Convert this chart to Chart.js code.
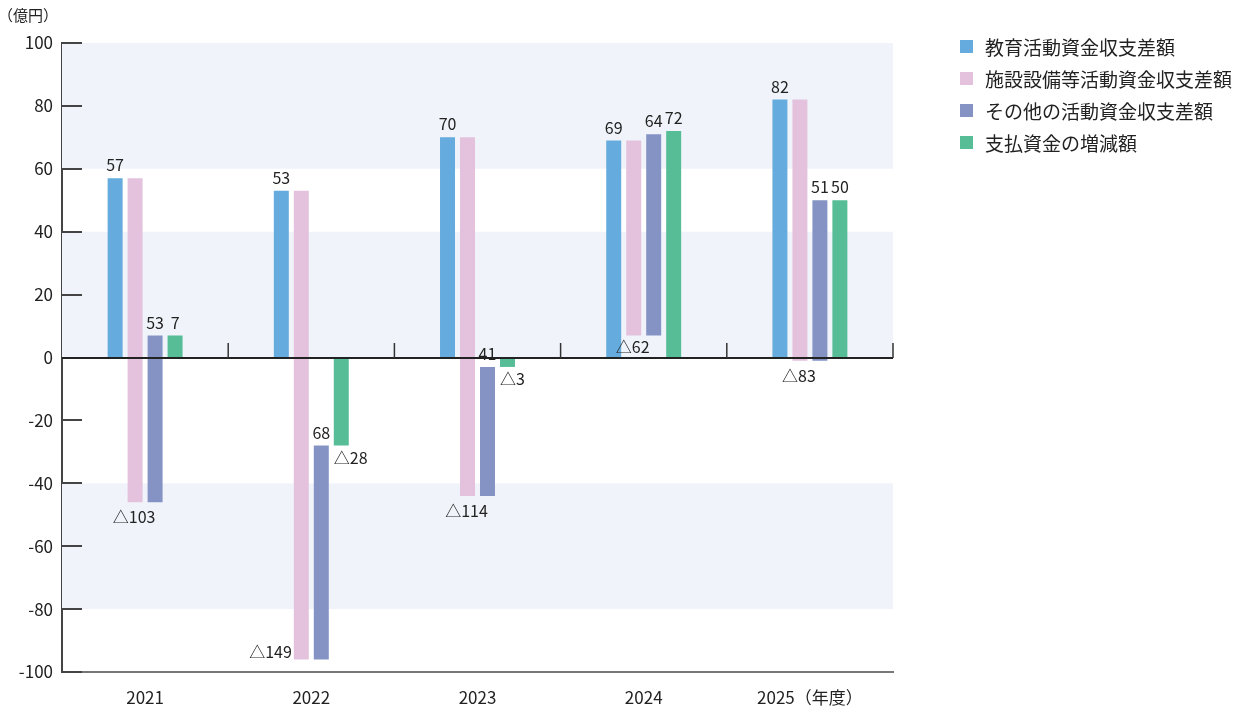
<!DOCTYPE html>
<html lang="ja">
<head>
<meta charset="utf-8">
<script src="https://cdn.jsdelivr.net/npm/chart.js@4"></script>
<style>
  html, body { margin:0; padding:0; background:#fff; }
  #wrap { position:relative; width:1239px; height:711px; font-family:"Noto Sans CJK JP","Noto Sans",sans-serif; color:#222; }
  #c { position:absolute; left:0; top:0; }
  #unit { position:absolute; left:-2px; top:4px; font-size:15px; }
  #legend { position:absolute; left:960px; top:30px; }
  .item { display:flex; align-items:center; height:32px; font-size:19px; white-space:nowrap; }
  .sw { width:13px; height:13px; margin-right:12px; flex:none; }
</style>
</head>
<body>
<div id="wrap">
  <canvas id="c" width="1239" height="711"></canvas>
  <div id="unit">（億円）</div>
  <div id="legend"></div>
</div>
<script>
// ---- data ----
const categories = ['2021', '2022', '2023', '2024', '2025（年度）'];
const seriesNames = ['教育活動資金収支差額', '施設設備等活動資金収支差額', 'その他の活動資金収支差額', '支払資金の増減額'];
const eduValues = [57, 53, 70, 69, 82];
const facilityValues = [-103, -149, -114, -62, -83];
const otherValues = [53, 68, 41, 64, 51];
const changeValues = [7, -28, -3, 72, 50];
const yMin = -100, yMax = 100, yStep = 20;
const bandRanges = [[60, 100], [0, 40], [-80, -40]];
const colors = ['#65abdd', '#e4c2dd', '#8593c4', '#56bd97'];

// floating bar ranges built from the values
const eduBars = eduValues.map(v => [0, v]);
const facilityBars = eduValues.map((v, i) => [v, v + facilityValues[i]]);
const otherBars = eduValues.map((v, i) => [v + facilityValues[i], v + facilityValues[i] + otherValues[i]]);
const changeBars = changeValues.map(v => [0, v]);
const rawValues = [eduValues, facilityValues, otherValues, changeValues];

// legend
const lg = document.getElementById('legend');
seriesNames.forEach((n, i) => {
  const d = document.createElement('div'); d.className = 'item';
  d.innerHTML = '<span class="sw" style="background:' + colors[i] + '"></span><span>' + n + '</span>';
  lg.appendChild(d);
});

const FONT = '"Noto Sans CJK JP","Noto Sans",sans-serif';

const decor = {
  id: 'decor',
  beforeDatasetsDraw(chart) {
    const {ctx, chartArea: a, scales: {x, y}} = chart;
    ctx.save();
    ctx.fillStyle = '#f0f4fa';
    bandRanges.forEach(([lo, hi]) => {
      const t = y.getPixelForValue(hi), b = y.getPixelForValue(lo);
      ctx.fillRect(a.left, t, a.right - a.left, b - t);
    });
    ctx.restore();
  },
  afterDatasetsDraw(chart) {
    const {ctx, chartArea: a, scales: {x, y}} = chart;
    ctx.save();
    // y inner ticks
    ctx.strokeStyle = '#444'; ctx.lineWidth = 2;
    for (let v = yMin; v <= yMax; v += yStep) {
      const py = Math.round(y.getPixelForValue(v));
      ctx.beginPath(); ctx.moveTo(a.left, py); ctx.lineTo(a.left + 20, py); ctx.stroke();
    }
    // zero line
    const z = Math.round(y.getPixelForValue(0));
    ctx.strokeStyle = '#222'; ctx.lineWidth = 2;
    ctx.beginPath(); ctx.moveTo(a.left, z); ctx.lineTo(a.right, z); ctx.stroke();
    // category boundary ticks
    ctx.lineWidth = 1.5; ctx.strokeStyle = '#333';
    for (let i = 0; i < categories.length; i++) {
      const bx = i < categories.length - 1 ? (x.getPixelForValue(i) + x.getPixelForValue(i + 1)) / 2 : a.right;
      ctx.beginPath(); ctx.moveTo(bx, z); ctx.lineTo(bx, z - 15); ctx.stroke();
    }
    // data labels
    ctx.font = '16px ' + FONT; ctx.fillStyle = '#222';
    chart.data.datasets.forEach((ds, di) => {
      const meta = chart.getDatasetMeta(di);
      meta.data.forEach((bar, i) => {
        const [s, e] = ds.data[i];
        const topPx = y.getPixelForValue(Math.max(s, e));
        const botPx = y.getPixelForValue(Math.min(s, e));
        const val = rawValues[di][i];
        const txt = val < 0 ? '△' + Math.abs(val) : String(val);
        const left = bar.x - bar.width / 2;
        if (val >= 0) {
          ctx.textAlign = 'center'; ctx.textBaseline = 'bottom';
          ctx.fillText(txt, bar.x, topPx - 5);
        } else if (di === 1) {
          if (botPx + 24 > a.bottom) {
            ctx.textAlign = 'right'; ctx.textBaseline = 'bottom';
            ctx.fillText(txt, left - 2, botPx + 1);
          } else {
            let ty = botPx + 7;
            if (botPx < z) ty = Math.min(ty, z - 19);
            ctx.textAlign = 'center'; ctx.textBaseline = 'top';
            ctx.fillText(txt, bar.x - 1, ty);
          }
        } else {
          ctx.textAlign = 'left'; ctx.textBaseline = 'top';
          ctx.fillText(txt, left, botPx + 4);
        }
      });
    });
    ctx.restore();
  }
};

const mk = (i, data) => ({
  label: seriesNames[i], data, backgroundColor: colors[i], borderWidth: 0,
  categoryPercentage: 0.481, barPercentage: 0.75
});

new Chart(document.getElementById('c'), {
  type: 'bar',
  data: {
    labels: categories,
    datasets: [mk(0, eduBars), mk(1, facilityBars), mk(2, otherBars), mk(3, changeBars)]
  },
  options: {
    responsive: false, animation: false, devicePixelRatio: 1,
    layout: { padding: { left: 0, right: 346, top: 43, bottom: 0 } },
    plugins: { legend: { display: false }, tooltip: { enabled: false } },
    scales: {
      x: {
        grid: { display: false, drawTicks: false },
        border: { display: true, color: '#777', width: 2 },
        ticks: { color: '#222', font: { size: 17, family: FONT }, padding: 15, maxRotation: 0 },
        afterFit: s => { s.height = 39; }
      },
      y: {
        min: yMin, max: yMax,
        grid: { display: false, drawTicks: false },
        border: { display: true, color: '#444', width: 2 },
        ticks: { stepSize: yStep, color: '#222', font: { size: 17, family: FONT }, padding: 9 },
        afterFit: s => { s.width = 62; }
      }
    }
  },
  plugins: [decor]
});
</script>
</body>
</html>
